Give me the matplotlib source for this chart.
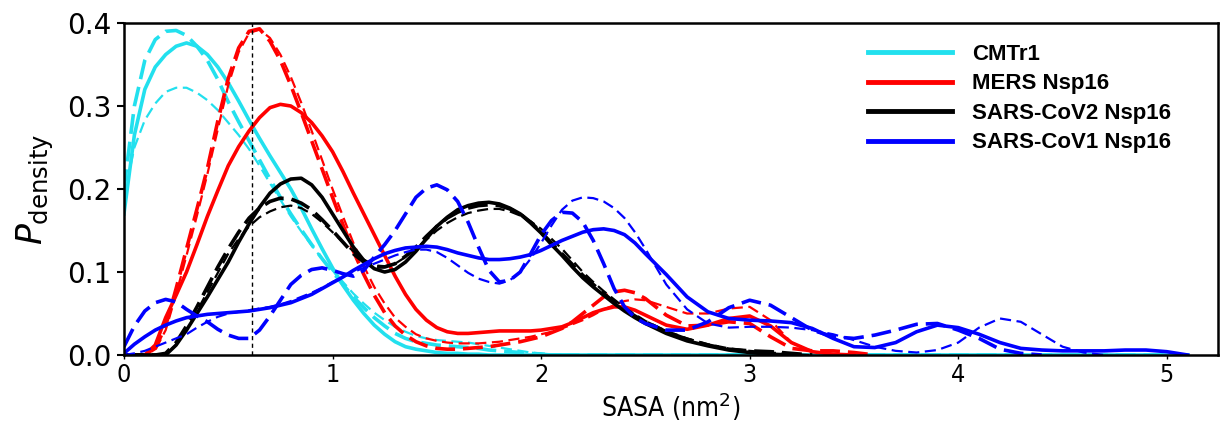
import numpy as np
import matplotlib
matplotlib.use("Agg")
import matplotlib.pyplot as plt
from matplotlib.lines import Line2D

# SASA grid (nm^2): 0.00 .. 2.45 every 0.05, then 2.5 .. 5.1 every 0.1
sasa = np.round(np.concatenate([np.arange(50) * 0.05, 2.5 + np.arange(27) * 0.1]), 2)

# CMTr1 (solid / thick dashed / thin dashed)
cmtr1_a = [0.170, 0.265, 0.320, 0.347, 0.362, 0.372, 0.376, 0.372, 0.362, 0.347,   # 0.00-0.45
           0.328, 0.306, 0.283, 0.261, 0.240, 0.220, 0.200, 0.177, 0.152, 0.128,   # 0.50-0.95
           0.105, 0.084, 0.066, 0.050, 0.036, 0.025, 0.016, 0.010, 0.007, 0.005,   # 1.00-1.45
           0.003, 0.002, 0.002, 0.001, 0.001, 0.0, 0.0, 0.0, 0.0, 0.0,             # 1.50-1.95
           0.0, 0.0, 0.0, 0.0, 0.0, 0.0, 0.0, 0.0, 0.0, 0.0,                       # 2.00-2.45
           0.0, 0.0, 0.0, 0.0, 0.0, 0.0, 0.0, 0.0, 0.0, 0.0,                       # 2.5-3.4
           0.0, 0.0, 0.0, 0.0, 0.0, 0.0, 0.0, 0.0, 0.0, 0.0,                       # 3.5-4.4
           0.0, 0.0, 0.0, 0.0, 0.0, 0.0, 0.0]                                      # 4.5-5.1
cmtr1_b = [0.200, 0.300, 0.355, 0.380, 0.390, 0.391, 0.385, 0.372, 0.355, 0.332,
           0.305, 0.281, 0.258, 0.235, 0.212, 0.190, 0.170, 0.151, 0.133, 0.116,
           0.100, 0.085, 0.070, 0.057, 0.045, 0.035, 0.026, 0.020, 0.016, 0.014,
           0.012, 0.011, 0.010, 0.009, 0.008, 0.006, 0.005, 0.004, 0.003, 0.002,
           0.001, 0.0, 0.0, 0.0, 0.0, 0.0, 0.0, 0.0, 0.0, 0.0,
           0.0, 0.0, 0.0, 0.0, 0.0, 0.0, 0.0, 0.0, 0.0, 0.0,
           0.0, 0.0, 0.0, 0.0, 0.0, 0.0, 0.0, 0.0, 0.0, 0.0,
           0.0, 0.0, 0.0, 0.0, 0.0, 0.0, 0.0]
cmtr1_c = [0.190, 0.250, 0.283, 0.303, 0.317, 0.322, 0.322, 0.316, 0.307, 0.295,
           0.280, 0.265, 0.248, 0.228, 0.207, 0.187, 0.167, 0.149, 0.132, 0.116,
           0.102, 0.088, 0.074, 0.062, 0.051, 0.042, 0.034, 0.028, 0.023, 0.020,
           0.018, 0.017, 0.016, 0.015, 0.013, 0.011, 0.009, 0.007, 0.005, 0.003,
           0.002, 0.001, 0.001, 0.0, 0.0, 0.0, 0.0, 0.0, 0.0, 0.0,
           0.0, 0.0, 0.0, 0.0, 0.0, 0.0, 0.0, 0.0, 0.0, 0.0,
           0.0, 0.0, 0.0, 0.0, 0.0, 0.0, 0.0, 0.0, 0.0, 0.0,
           0.0, 0.0, 0.0, 0.0, 0.0, 0.0, 0.0]

# MERS Nsp16
mers_a = [0.0, 0.0, 0.0, 0.012, 0.045, 0.072, 0.100, 0.133, 0.167, 0.198,
          0.228, 0.251, 0.270, 0.286, 0.298, 0.302, 0.300, 0.292, 0.280, 0.264,
          0.245, 0.221, 0.195, 0.170, 0.145, 0.120, 0.095, 0.073, 0.055, 0.042,
          0.033, 0.028, 0.026, 0.026, 0.027, 0.028, 0.029, 0.029, 0.029, 0.029,
          0.030, 0.032, 0.034, 0.039, 0.045, 0.051, 0.055, 0.058, 0.058, 0.054,
          0.048, 0.036, 0.031, 0.036, 0.044, 0.047, 0.035, 0.015, 0.004, 0.001,
          0.0]
mers_b = [0.0, 0.0, 0.0, 0.008, 0.035, 0.080, 0.128, 0.176, 0.225, 0.282,
          0.333, 0.370, 0.390, 0.393, 0.378, 0.355, 0.325, 0.292, 0.258, 0.224,
          0.190, 0.157, 0.125, 0.097, 0.072, 0.051, 0.035, 0.024, 0.016, 0.011,
          0.008, 0.007, 0.007, 0.008, 0.009, 0.010, 0.012, 0.014, 0.016, 0.019,
          0.022, 0.027, 0.032, 0.040, 0.050, 0.060, 0.070, 0.076, 0.078, 0.075,
          0.068, 0.048, 0.035, 0.036, 0.040, 0.038, 0.022, 0.008, 0.005, 0.005,
          0.003, 0.0]
mers_c = [0.0, 0.0, 0.0, 0.006, 0.030, 0.073, 0.120, 0.168, 0.218, 0.272,
          0.325, 0.365, 0.388, 0.392, 0.382, 0.362, 0.335, 0.304, 0.270, 0.235,
          0.200, 0.167, 0.135, 0.107, 0.082, 0.062, 0.045, 0.034, 0.025, 0.020,
          0.017, 0.015, 0.014, 0.014, 0.014, 0.015, 0.016, 0.018, 0.020, 0.022,
          0.025, 0.028, 0.032, 0.037, 0.042, 0.048, 0.055, 0.060, 0.065, 0.067,
          0.066, 0.058, 0.050, 0.050, 0.056, 0.058, 0.042, 0.015, 0.004, 0.001,
          0.0]

# SARS-CoV2 Nsp16
cov2_a = [0.0, 0.0, 0.0, 0.0, 0.0, 0.012, 0.030, 0.050, 0.070, 0.091,
          0.112, 0.136, 0.158, 0.178, 0.195, 0.206, 0.212, 0.213, 0.205, 0.190,
          0.170, 0.150, 0.130, 0.114, 0.104, 0.100, 0.103, 0.112, 0.125, 0.140,
          0.155, 0.166, 0.175, 0.180, 0.183, 0.184, 0.182, 0.177, 0.170, 0.159,
          0.147, 0.133, 0.120, 0.106, 0.093, 0.082, 0.072, 0.062, 0.053, 0.045,
          0.038, 0.026, 0.017, 0.011, 0.006, 0.003, 0.001, 0.0]
cov2_b = [0.0, 0.0, 0.0, 0.0, 0.002, 0.015, 0.035, 0.058, 0.082, 0.106,
          0.128, 0.148, 0.165, 0.177, 0.185, 0.189, 0.188, 0.183, 0.175, 0.163,
          0.150, 0.136, 0.122, 0.112, 0.106, 0.106, 0.110, 0.119, 0.130, 0.143,
          0.155, 0.165, 0.172, 0.177, 0.180, 0.181, 0.180, 0.176, 0.170, 0.160,
          0.148, 0.135, 0.122, 0.109, 0.096, 0.085, 0.074, 0.064, 0.055, 0.047,
          0.040, 0.028, 0.019, 0.012, 0.007, 0.005, 0.004, 0.002, 0.0]
cov2_c = [0.0, 0.0, 0.0, 0.0, 0.001, 0.012, 0.030, 0.053, 0.076, 0.099,
          0.122, 0.140, 0.155, 0.166, 0.173, 0.178, 0.180, 0.177, 0.170, 0.160,
          0.148, 0.136, 0.125, 0.115, 0.108, 0.107, 0.110, 0.118, 0.128, 0.139,
          0.150, 0.159, 0.166, 0.171, 0.174, 0.176, 0.176, 0.173, 0.168, 0.161,
          0.152, 0.140, 0.128, 0.114, 0.100, 0.088, 0.077, 0.067, 0.057, 0.049,
          0.041, 0.029, 0.020, 0.013, 0.008, 0.005, 0.003, 0.001, 0.0]

# SARS-CoV1 Nsp16
cov1_a = [0.002, 0.013, 0.022, 0.030, 0.036, 0.041, 0.045, 0.047, 0.049, 0.050,
          0.051, 0.052, 0.053, 0.055, 0.057, 0.060, 0.063, 0.068, 0.073, 0.080,
          0.087, 0.094, 0.102, 0.109, 0.116, 0.122, 0.126, 0.129, 0.130, 0.131,
          0.130, 0.127, 0.123, 0.120, 0.117, 0.115, 0.115, 0.116, 0.118, 0.121,
          0.126, 0.132, 0.138, 0.143, 0.148, 0.151, 0.152, 0.150, 0.145, 0.135,
          0.122, 0.097, 0.070, 0.052, 0.044, 0.042, 0.041, 0.039, 0.032, 0.020,
          0.010, 0.009, 0.015, 0.028, 0.036, 0.033, 0.025, 0.015, 0.008, 0.006,
          0.005, 0.005, 0.005, 0.006, 0.006, 0.004, 0.0]
cov1_b = [0.010, 0.035, 0.053, 0.063, 0.067, 0.064, 0.055, 0.047, 0.040, 0.031,
          0.024, 0.020, 0.020, 0.030, 0.047, 0.066, 0.085, 0.096, 0.103, 0.105,
          0.102, 0.098, 0.095, 0.102, 0.118, 0.133, 0.150, 0.170, 0.190, 0.201,
          0.205, 0.199, 0.185, 0.160, 0.130, 0.102, 0.088, 0.090, 0.100, 0.122,
          0.145, 0.162, 0.172, 0.171, 0.160, 0.138, 0.110, 0.080, 0.058, 0.045,
          0.038, 0.030, 0.030, 0.040, 0.057, 0.066, 0.060, 0.045, 0.030, 0.022,
          0.020, 0.024, 0.030, 0.037, 0.038, 0.030, 0.020, 0.007, 0.002, 0.0]
cov1_c = [0.0, 0.002, 0.005, 0.010, 0.015, 0.020, 0.025, 0.033, 0.040, 0.046,
          0.050, 0.052, 0.054, 0.056, 0.058, 0.061, 0.065, 0.070, 0.075, 0.081,
          0.088, 0.094, 0.100, 0.105, 0.110, 0.115, 0.120, 0.124, 0.127, 0.127,
          0.124, 0.117, 0.108, 0.099, 0.092, 0.088, 0.086, 0.090, 0.100, 0.116,
          0.135, 0.156, 0.175, 0.186, 0.190, 0.189, 0.185, 0.177, 0.165, 0.148,
          0.128, 0.085, 0.055, 0.038, 0.033, 0.034, 0.034, 0.033, 0.030, 0.025,
          0.018, 0.010, 0.005, 0.003, 0.006, 0.015, 0.033, 0.044, 0.040, 0.025,
          0.010, 0.003, 0.0]

labels = ["CMTr1", "MERS Nsp16", "SARS-CoV2 Nsp16", "SARS-CoV1 Nsp16"]
colors = ["#22e0ee", "#ff0000", "#000000", "#0000ff"]
groups = [(cmtr1_a, cmtr1_b, cmtr1_c), (mers_a, mers_b, mers_c),
          (cov2_a, cov2_b, cov2_c), (cov1_a, cov1_b, cov1_c)]
x_mark = 0.613

fig = plt.figure(figsize=(12.2, 4.3), dpi=100)
ax = fig.add_axes([0.1016, 0.1744, 0.8967, 0.7721])

for (a, b, c), col in zip(groups, colors):
    ax.plot(sasa[:len(a)], a, color=col, lw=2.6, solid_joinstyle="round")
    ax.plot(sasa[:len(b)], b, color=col, lw=2.6, dashes=(5.5, 2.2))
    ax.plot(sasa[:len(c)], c, color=col, lw=1.6, dashes=(5, 2.5))

ax.axvline(x_mark, color="k", lw=1, ls=(0, (3, 2.5)))

ax.set_xlim(0, 5.245)
ax.set_ylim(0, 0.4)
ax.set_xticks([0, 1, 2, 3, 4, 5])
ax.set_yticks([0.0, 0.1, 0.2, 0.3, 0.4])
ax.set_yticklabels(["0.0", "0.1", "0.2", "0.3", "0.4"])
ax.tick_params(axis="y", labelsize=20, length=5, width=1.5, pad=4)
ax.tick_params(axis="x", labelsize=18, length=3, width=1, pad=3)
for lab in ax.get_xticklabels():
    lab.set_fontstretch("condensed")
for sp in ax.spines.values():
    sp.set_linewidth(1.8)

ax.set_xlabel("SASA (nm$^2$)", fontsize=19, fontstretch="condensed", labelpad=2)
ax.set_ylabel(r"$P_{\mathrm{density}}$", fontsize=25, labelpad=8)

handles = [Line2D([], [], color=c, lw=3.5) for c in colors]
leg = ax.legend(handles, labels, loc="upper left",
                bbox_to_anchor=(868 / 1220, 1 - 44 / 430),
                bbox_transform=fig.transFigure, frameon=False,
                borderpad=0, borderaxespad=0, handlelength=3.8,
                handletextpad=0.9, labelspacing=0.38,
                prop={"family": "Liberation Sans", "weight": "bold", "size": 16})

fig.savefig("out.png", dpi=100)
